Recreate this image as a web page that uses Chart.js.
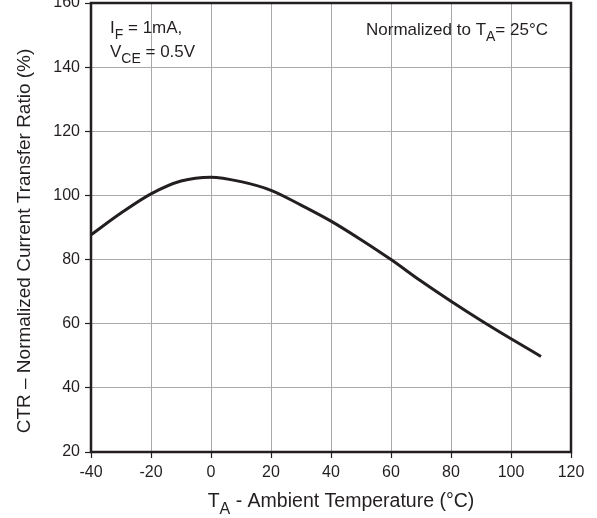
<!DOCTYPE html>
<html>
<head>
<meta charset="utf-8">
<script src="https://cdn.jsdelivr.net/npm/chart.js@4/dist/chart.umd.min.js"></script>
<style>
  html, body { margin: 0; padding: 0; background: #fff; }
  #wrap { position: relative; width: 597px; height: 518px; }
</style>
</head>
<body>
<div id="wrap"><canvas id="chart" width="597" height="518"></canvas></div>
<script>
// CTR vs ambient temperature
const temps = [-40, -30, -20, -10, 0, 10, 20, 30, 40, 50, 60, 70, 80, 90, 100, 110];
const ctrValues = [87.7, 94.5, 100.5, 104.5, 105.7, 104.3, 101.6, 97.0, 92.0, 86.2, 80.0, 73.3, 67.0, 61.0, 55.3, 49.8];
const xTicks = [-40, -20, 0, 20, 40, 60, 80, 100, 120];
const yTicks = [20, 40, 60, 80, 100, 120, 140, 160];

const ink = '#231f20';
const gridGray = '#a9a9a9';
const font = 'Liberation Sans, Arial, sans-serif';

// draws text with a subscript part: parts = [[text, isSub], ...]
const drawSubText = (ctx, parts, x, y, size, align) => {
  const subSize = Math.round(size * 0.8);
  let total = 0;
  parts.forEach(([t, sub]) => {
    ctx.font = (sub ? subSize : size) + 'px ' + font;
    total += ctx.measureText(t).width;
  });
  let cx = align === 'center' ? x - total / 2 : (align === 'right' ? x - total : x);
  parts.forEach(([t, sub]) => {
    ctx.font = (sub ? subSize : size) + 'px ' + font;
    ctx.fillText(t, cx, sub ? y + size * 0.35 : y);
    cx += ctx.measureText(t).width;
  });
};

const framePlugin = {
  id: 'frame',
  afterDraw(chart) {
    const { ctx, chartArea: a } = chart;
    ctx.save();
    ctx.strokeStyle = ink;
    ctx.lineWidth = 2.5;
    ctx.strokeRect(a.left, a.top, a.right - a.left, a.bottom - a.top);

    ctx.fillStyle = ink;
    ctx.textBaseline = 'alphabetic';
    ctx.textAlign = 'left';
    drawSubText(ctx, [['I', false], ['F', true], [' = 1mA,', false]], 110, 33, 17, 'left');
    drawSubText(ctx, [['V', false], ['CE', true], [' = 0.5V', false]], 110, 57, 17, 'left');
    drawSubText(ctx, [['Normalized to T', false], ['A', true], ['= 25°C', false]], 548, 35, 17, 'right');

    // x axis title
    drawSubText(ctx, [['T', false], ['A', true], [' - Ambient Temperature (°C)', false]], 341, 507, 19.5, 'center');

    // y axis title
    ctx.translate(30, 241);
    ctx.rotate(-Math.PI / 2);
    ctx.font = '19px ' + font;
    ctx.textAlign = 'center';
    ctx.fillText('CTR – Normalized Current Transfer Ratio (%)', 0, 0);
    ctx.restore();
  }
};

new Chart(document.getElementById('chart'), {
  type: 'line',
  data: {
    datasets: [{
      data: temps.map((t, i) => ({ x: t, y: ctrValues[i] })),
      borderColor: ink,
      borderWidth: 3,
      pointRadius: 0,
      tension: 0.4,
      cubicInterpolationMode: 'monotone',
      fill: false
    }]
  },
  options: {
    responsive: false,
    animation: false,
    layout: { padding: { top: 3, right: 26, left: 0, bottom: 0 } },
    plugins: { legend: { display: false }, tooltip: { enabled: false } },
    scales: {
      x: {
        type: 'linear',
        min: -40, max: 120,
        afterBuildTicks: s => { s.ticks = xTicks.map(v => ({ value: v })); },
        afterFit: s => { s.height = 66; s.paddingLeft = 0; s.paddingRight = 0; },
        grid: { color: gridGray, lineWidth: 1, tickColor: ink, tickLength: 6, tickWidth: 1.2 },
        border: { display: false },
        ticks: { color: ink, font: { family: font, size: 16 }, padding: 5, maxRotation: 0 }
      },
      y: {
        min: 20, max: 160,
        afterBuildTicks: s => { s.ticks = yTicks.map(v => ({ value: v })); },
        afterFit: s => { s.width = 91; s.paddingTop = 0; s.paddingBottom = 0; },
        grid: { color: gridGray, lineWidth: 1, tickColor: ink, tickLength: 6, tickWidth: 1.2 },
        border: { display: false },
        ticks: { color: ink, font: { family: font, size: 16 }, padding: 5 }
      }
    }
  },
  plugins: [framePlugin]
});
</script>
</body>
</html>
